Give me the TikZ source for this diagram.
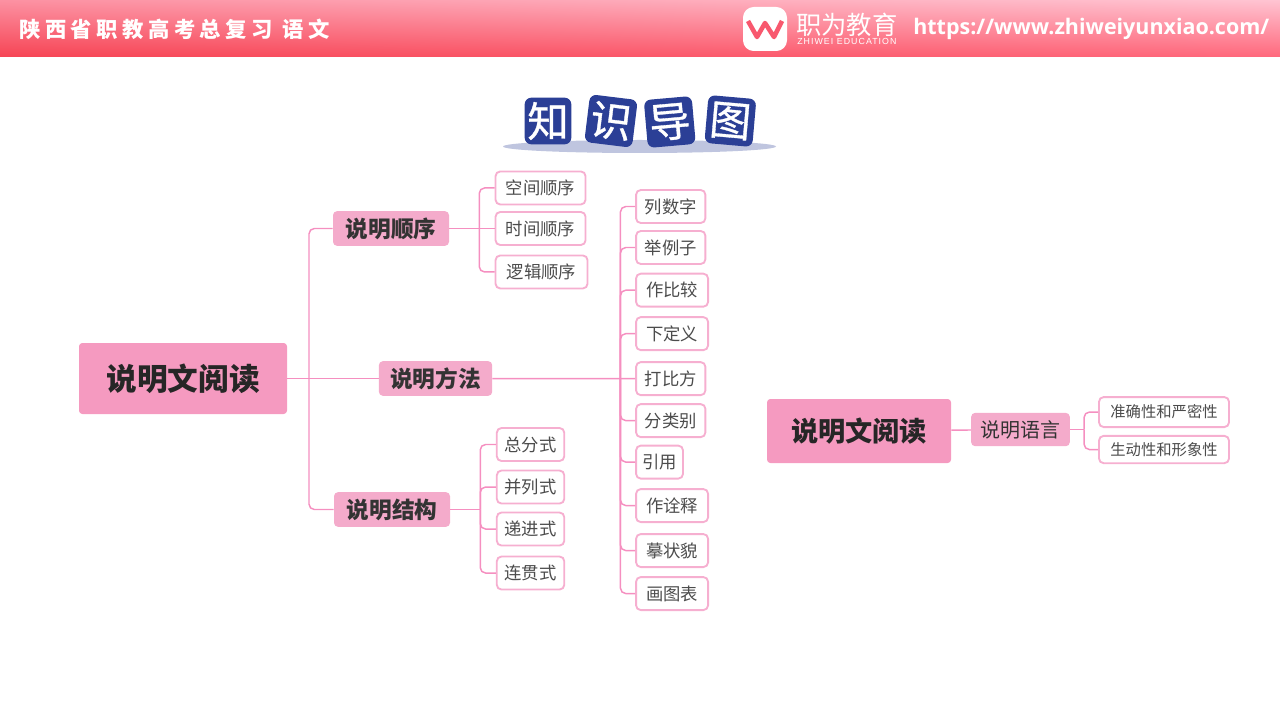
\documentclass[tikz,border=0pt]{standalone}
\usepackage{fontspec}
\setmainfont{Noto Sans CJK SC}
\newfontfamily\headfont[LetterSpace=21]{Noto Sans CJK SC}
\newfontfamily\badgefont[FakeBold=0.8]{Noto Sans CJK SC}
\newfontfamily\urlfont{Open Sans}
\newfontfamily\smallfont[LetterSpace=12]{Liberation Sans}
\usetikzlibrary{positioning,shapes.geometric,shadings}
\definecolor{rootpink}{HTML}{F59AC0}
\definecolor{branchpink}{HTML}{F4ABCB}
\definecolor{leafpink}{HTML}{F6AFD0}
\definecolor{linkpink}{HTML}{F58FC0}
\definecolor{badgeblue}{HTML}{2B3F96}
\definecolor{headul}{RGB}{252,145,162}
\definecolor{headll}{RGB}{246,68,84}
\definecolor{headur}{RGB}{255,196,210}
\definecolor{headlr}{RGB}{255,104,124}
\definecolor{logored}{RGB}{248,88,110}
\tikzset{
  rootbox/.style={fill=rootpink,rounded corners=2.5pt,text=black!85,font=\bfseries\fontsize{23}{25}\selectfont,inner sep=0pt,minimum width=156pt,minimum height=53.25pt},
  branchbox/.style={fill=branchpink,rounded corners=3pt,text=black!80,font=\bfseries\fontsize{17}{19}\selectfont,inner sep=0pt,minimum width=87pt,minimum height=26pt},
  leafbox/.style={draw=leafpink,line width=1.4pt,fill=white,rounded corners=3.5pt,text=black!70,font=\fontsize{13}{15}\selectfont,inner xsep=6.5pt,inner ysep=0pt,minimum height=24.75pt},
  badge/.style={fill=badgeblue,rounded corners=5pt,text=white,font=\badgefont\fontsize{31}{33}\selectfont,inner sep=0pt,minimum size=36pt},
  link/.style={draw=linkpink,line width=1.1pt,rounded corners=4pt},
}
\begin{document}
\begin{tikzpicture}[x=0.75pt,y=-0.75pt,node distance=30pt,on grid]
  \useasboundingbox (0,0) rectangle (1280,720);
  % header
  \shade[shading=bilinear interpolation,upper left=headul,lower left=headll,upper right=headur,lower right=headlr]
    (0,0) rectangle (1280,57);
  \node[text=white,anchor=west,font=\headfont\bfseries\fontsize{16}{18}\selectfont,inner sep=0pt] (head) at (19,29) {陕西省职教高考总复习 语文};
  \fill[white,rounded corners=8pt] (743,7) rectangle (787,51);
  \draw[draw=logored,line width=3.4pt,line join=round] (748,21) -- (757,37) -- (765,23) -- (774,37) -- (782,21);
  \node[text=white,anchor=west,font=\fontsize{19}{21}\selectfont,inner sep=0pt] (brand) at (796,25) {职为教育};
  \node[text=white,anchor=west,font=\smallfont\fontsize{6.6}{8}\selectfont,inner sep=0pt] (brandsub) at (797,41) {ZHIWEI EDUCATION};
  \node[text=white,anchor=west,font=\urlfont\bfseries\fontsize{16.1}{18}\selectfont,inner sep=0pt] (url) at (913,29) {https://www.zhiweiyunxiao.com/};

  % title
  \node[ellipse,fill=badgeblue!30,inner sep=0pt,minimum width=204.75pt,minimum height=9.75pt] (shadow) at (639.5,146.5) {};
  \node[badge,minimum size=35pt] (zhi) at (548,121) {知};
  \node[badge,rotate=-7] (shi) [right=47.25pt of zhi] {识};
  \node[badge,rotate=5] (dao) [right=44pt of shi,yshift=-0.75pt] {导};
  \node[badge,rotate=-5] (tu) [right=45.4pt of dao,yshift=0.75pt] {图};

  % left map
  \node[rootbox] (root) at (183,378.5) {说明文阅读};
  \node[branchbox] (order) [above right=112.5pt and 156pt of root] {说明顺序};
  \node[branchbox,minimum width=85pt] (method) [right=189.4pt of root] {说明方法};
  \node[branchbox] (frame) [below right=98.25pt and 156.75pt of root] {说明结构};

  \node[leafbox,minimum width=67.5pt] (space) [above right=30.4pt and 34pt of order.east,anchor=west] {空间顺序};
  \node[leafbox,minimum width=67.5pt] (time) [below=30.4pt of space.west,anchor=west] {时间顺序};
  \node[leafbox,minimum width=69pt] (logic) [below=32.6pt of time.west,anchor=west] {逻辑顺序};

  \node[leafbox,inner xsep=5.8pt] (total) [above right=48.75pt and 34.2pt of frame.east,anchor=west] {总分式};
  \node[leafbox,inner xsep=5.8pt] (parallel) [below=31.9pt of total.west,anchor=west] {并列式};
  \node[leafbox,inner xsep=5.8pt] (stepped) [below=31.5pt of parallel.west,anchor=west] {递进式};
  \node[leafbox,inner xsep=5.8pt] (chain) [below=33pt of stepped.west,anchor=west] {连贯式};

  \node[leafbox] (numbers) [above right=129pt and 107pt of method.east,anchor=west] {列数字};
  \node[leafbox] (example) [below=30.75pt of numbers.west,anchor=west] {举例子};
  \node[leafbox,minimum width=54pt] (compare) [below=32pt of example.west,anchor=west] {作比较};
  \node[leafbox,minimum width=54pt] (define) [below=32.6pt of compare.west,anchor=west] {下定义};
  \node[leafbox] (simile) [below=33.75pt of define.west,anchor=west] {打比方};
  \node[leafbox] (classify) [below=31.5pt of simile.west,anchor=west] {分类别};
  \node[leafbox,inner xsep=4.6pt] (quote) [below=31.1pt of classify.west,anchor=west] {引用};
  \node[leafbox,minimum width=54pt] (note) [below=32.6pt of quote.west,anchor=west] {作诠释};
  \node[leafbox,minimum width=54pt] (depict) [below=33.75pt of note.west,anchor=west] {摹状貌};
  \node[leafbox,minimum width=54pt] (chart) [below=32.25pt of depict.west,anchor=west] {画图表};

  \coordinate[right=94.5pt of root] (trunk);
  \coordinate[right=22.5pt of order.east] (orderbus);
  \coordinate[right=22.5pt of frame.east] (framebus);
  \coordinate[right=96pt of method.east] (methodbus);

  \draw[link] (root) -- (method);
  \draw[link] (method) -- (simile);
  \draw[link] (trunk) |- (order);
  \draw[link] (trunk) |- (frame);
  \draw[link] (order) -- (time);
  \draw[link] (orderbus) |- (space);
  \draw[link] (orderbus) |- (logic);
  \draw[link] (frame) -- (framebus);
  \foreach \leaf in {total,parallel,stepped,chain} \draw[link] (framebus) |- (\leaf);
  \foreach \leaf in {numbers,example,compare,define,classify,quote,note,depict,chart} \draw[link] (methodbus) |- (\leaf);

  % right map
  \node[rootbox,minimum width=138pt,minimum height=48pt,font=\bfseries\fontsize{20.4}{22}\selectfont] (rootb) at (859,431) {说明文阅读};
  \node[branchbox,minimum width=74pt,minimum height=25pt,font=\fontsize{15}{17}\selectfont] (language) [right=121.1pt of rootb,yshift=1.1pt] {说明语言};
  \node[leafbox,font=\fontsize{11.5}{13}\selectfont,minimum width=97.5pt,minimum height=22.5pt] (exact) [above right=13.1pt and 21pt of language.east,anchor=west] {准确性和严密性};
  \node[leafbox,font=\fontsize{11.5}{13}\selectfont,minimum width=97.5pt,minimum height=20.5pt] (vivid) [below=28.1pt of exact.west,anchor=west] {生动性和形象性};
  \coordinate[right=10.5pt of language.east] (langbus);
  \draw[link] (rootb) -- (language);
  \draw[link] (language) -- (langbus);
  \draw[link] (langbus) |- (exact);
  \draw[link] (langbus) |- (vivid);
\end{tikzpicture}
\end{document}
